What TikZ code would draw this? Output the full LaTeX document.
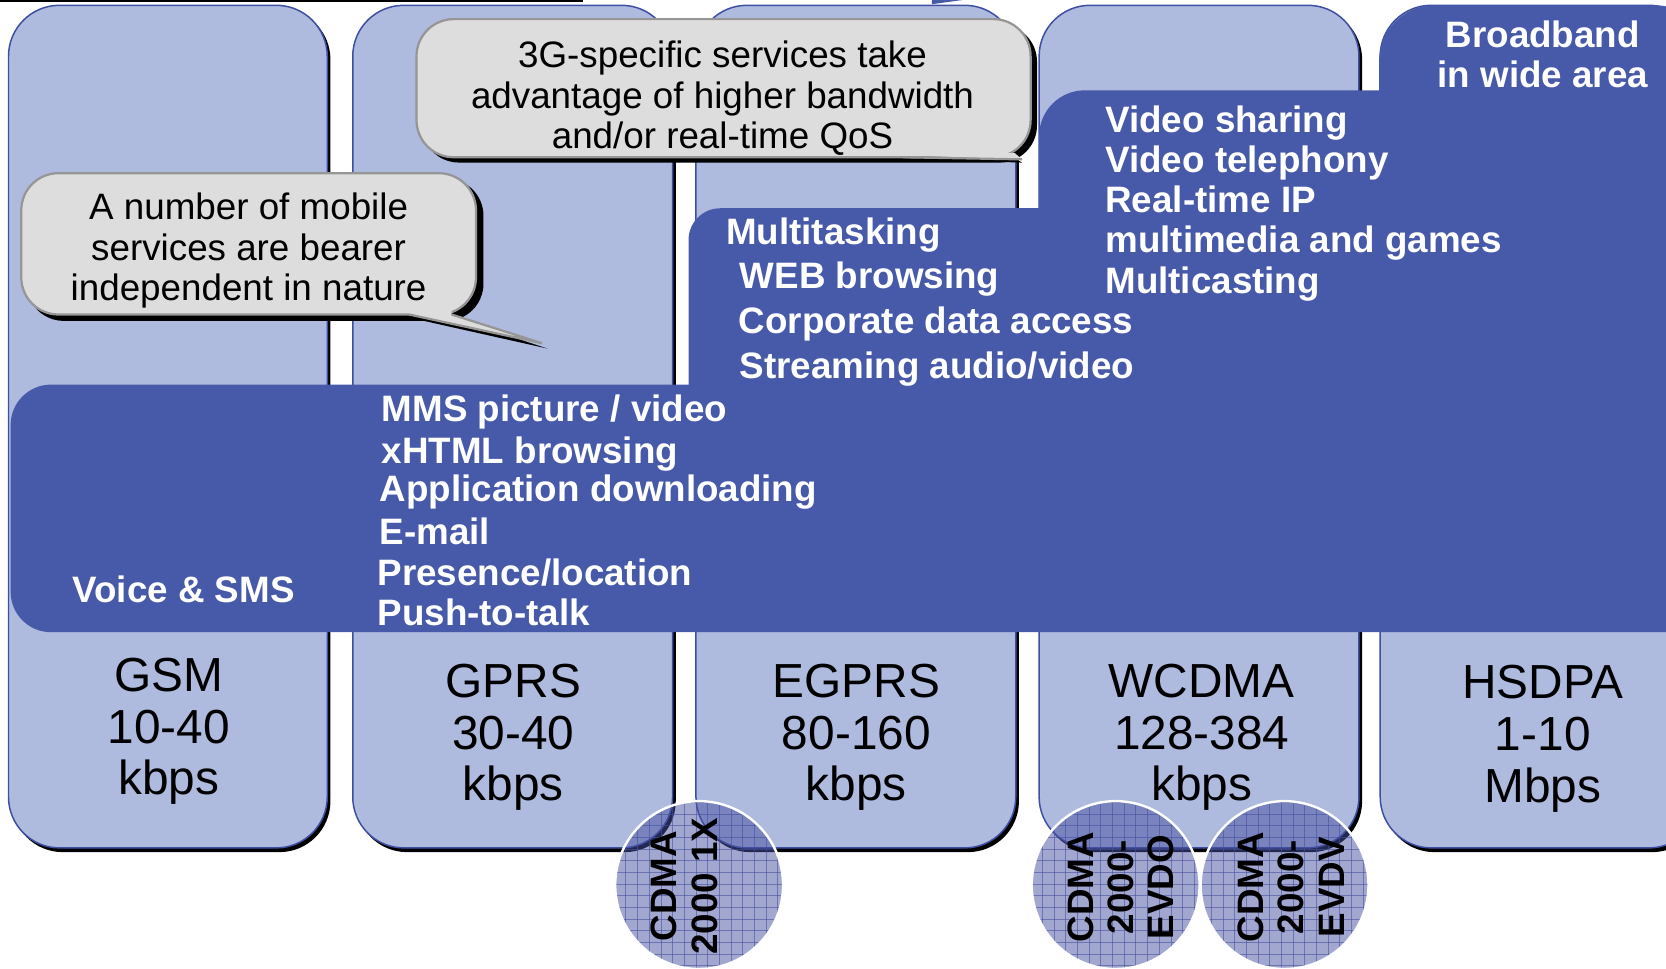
\documentclass[tikz,border=0pt]{standalone}
\usepackage{fontspec}
\setmainfont{Liberation Sans}
\usepackage{xcolor}
\usepackage{tikz}
\definecolor{dkblue}{RGB}{71,89,169}
\definecolor{ltblue}{RGB}{174,186,222}
\definecolor{rimblue}{RGB}{62,79,163}
\definecolor{bubblegray}{RGB}{221,221,221}
\definecolor{bubblerim}{RGB}{150,150,150}
\definecolor{discblue}{RGB}{70,80,160}
\tikzset{
  colbox/.style={
    fill = ltblue,
    draw = rimblue,
    line width = 0.8pt,
    rounded corners = 0.96cm
  },
  colshadow/.style={
    fill = black,
    rounded corners = 0.96cm
  },
  band/.style={
    fill = dkblue,
    rounded corners = #1
  },
  band/.default = 0.76cm
}
\tikzset{
  bubble/.style={
    fill = bubblegray,
    draw = bubblerim,
    line width = 1.2pt,
    rounded corners = 0.7cm
  },
  gridline/.style={
    draw = discblue,
    line width = 0.4pt,
    opacity = 0.6
  }
}

\begin{document}
\begin{tikzpicture}[x=0.02cm, y=-0.02cm,
  svc/.style={text=white, font=\bfseries\fontsize{19.7}{21.6}\selectfont, inner sep=0pt, anchor=base west},
  note/.style={text=black, font=\fontsize{19.7}{21.6}\selectfont, inner sep=0pt, anchor=base},
  rate/.style={text=black, font=\fontsize{25.6}{28}\selectfont, inner sep=0pt, anchor=base},
  cdma/.style={text=black, font=\bfseries\fontsize{19.7}{21.6}\selectfont, align=center, rotate=90, inner sep=0pt}]
\useasboundingbox (0,0) rectangle (1568,912);
\clip (0,0) rectangle (1568,912);
\newcommand\YTop{5}
\newcommand\YBot{798}

% remains cut by the top edge
\draw[line width=1.2pt] (0,1) -- (549,1);
\fill[dkblue] (877,0) -- (906,0) -- (877,4) -- cycle;

% bearer columns
\fill[colshadow] (11,\YTop+3) rectangle (311,\YBot+4);
\path[colbox] (8,\YTop) rectangle (308,\YBot);
\fill[colshadow] (335,\YTop+3) rectangle (636,\YBot+4);
\path[colbox] (332,\YTop) rectangle (633,\YBot);
\fill[colshadow] (658,\YTop+3) rectangle (959,\YBot+4);
\path[colbox] (655,\YTop) rectangle (956,\YBot);
\fill[colshadow] (981,\YTop+3) rectangle (1282,\YBot+4);
\path[colbox] (978,\YTop) rectangle (1279,\YBot);
\fill[colshadow] (1302,\YTop+3) rectangle (1603,\YBot+4);
\path[colbox] (1299,\YTop) rectangle (1600,\YBot);

% service bands
\fill[band] (10,362) rectangle (1610,595);
\fill[band=0.6cm] (648,196) rectangle (1610,420);
\fill[band=0.86cm] (978,85) rectangle (1610,300);
\fill[band=1.04cm] (1298,\YTop) rectangle (1610,200);

% callouts
\fill[black, rounded corners=0.7cm] (397,23) rectangle (976,153);
\path[bubble] (392,18) rectangle (970,148);
\fill[black] (850,150) -- (962,153) -- (955,149) -- cycle;
\fill[bubblegray] (850,146) -- (962,150) -- (955,144) -- cycle;
\draw[bubblerim, line width=1.2pt] (850,148) -- (962,150);
\fill[black, rounded corners=0.7cm] (25,168) rectangle (455,302);
\fill[black] (390,300) -- (515,328) -- (430,300) -- cycle;
\path[bubble] (20,163) rectangle (448,296);
\fill[bubblegray] (385,290) -- (385,296) -- (510,323) -- (425,296) -- (425,290) -- cycle;
\draw[bubblerim, line width=1.2pt] (385,296) -- (510,323) -- (425,296);

\node[note] (Qos1) at (680,64) {3G-specific services take};
\node[note] (Qos2) at (680,102) {advantage of higher bandwidth};
\node[note] (Qos3) at (680,140) {and/or real-time QoS};
\node[note] (Bearer1) at (234,207) {A number of mobile};
\node[note] (Bearer2) at (234,245) {services are bearer};
\node[note] (Bearer3) at (234,283) {independent in nature};

% services
\node[svc, anchor=base] (Wide1) at (1452,45) {Broadband};
\node[svc, anchor=base] (Wide2) at (1452,82) {in wide area};
\node[svc] (Video1) at (1040,125) {Video sharing};
\node[svc] (Video2) at (1040,162) {Video telephony};
\node[svc] (Video3) at (1040,200) {Real-time IP};
\node[svc] (Video4) at (1040,238) {multimedia and games};
\node[svc] (Video5) at (1040,276) {Multicasting};
\node[svc] (Multi1) at (683,230) {Multitasking};
\node[svc] (Multi2) at (696,272) {WEB browsing};
\node[svc] (Multi3) at (695,314) {Corporate data access};
\node[svc] (Multi4) at (696,356) {Streaming audio/video};
\node[svc] (Mms1) at (359,397) {MMS picture / video};
\node[svc] (Mms2) at (359,436) {xHTML browsing};
\node[svc] (Mms3) at (357,472) {Application downloading};
\node[svc] (Mms4) at (357,512) {E-mail};
\node[svc] (Mms5) at (355,551) {Presence/location};
\node[svc] (Mms6) at (355,589) {Push-to-talk};
\node[svc] (Voice) at (68,567) {Voice \& SMS};

% bearer rates
\node[rate] (Gsm1) at (159,651) {GSM};
\node[rate] (Gsm2) at (159,700) {10-40};
\node[rate] (Gsm3) at (159,748) {kbps};
\node[rate] (Gprs1) at (483,656) {GPRS};
\node[rate] (Gprs2) at (483,705) {30-40};
\node[rate] (Gprs3) at (483,753) {kbps};
\node[rate] (Egprs1) at (806,656) {EGPRS};
\node[rate] (Egprs2) at (806,705) {80-160};
\node[rate] (Egprs3) at (806,753) {kbps};
\node[rate] (Wcdma1) at (1131,656) {WCDMA};
\node[rate] (Wcdma2) at (1131,705) {128-384};
\node[rate] (Wcdma3) at (1131,753) {kbps};
\node[rate] (Hsdpa1) at (1452,657) {HSDPA};
\node[rate] (Hsdpa2) at (1452,706) {1-10};
\node[rate] (Hsdpa3) at (1452,755) {Mbps};

% cdma discs
\foreach \cx in {658,1050,1209} {
  \fill[discblue, fill opacity=0.5] (\cx,833) circle (79);
  \begin{scope}
    \clip (\cx,833) circle (79);
    \foreach \k in {0,...,15} {
      \draw[gridline] (\cx-80+\k*11,750) -- (\cx-80+\k*11,915);
      \draw[gridline] (\cx-85,755+\k*11) -- (\cx+85,755+\k*11);
    }
  \end{scope}
  \draw[white, line width=1.3pt] (\cx,833) circle (79);
}
\node[cdma] (Cdma1) at (644,834) {CDMA\\2000 1X};
\node[cdma] (Cdma2) at (1055,835) {CDMA\\2000-\\EVDO};
\node[cdma] (Cdma3) at (1215,835) {CDMA\\2000-\\EVDV};
\end{tikzpicture}
\end{document}
